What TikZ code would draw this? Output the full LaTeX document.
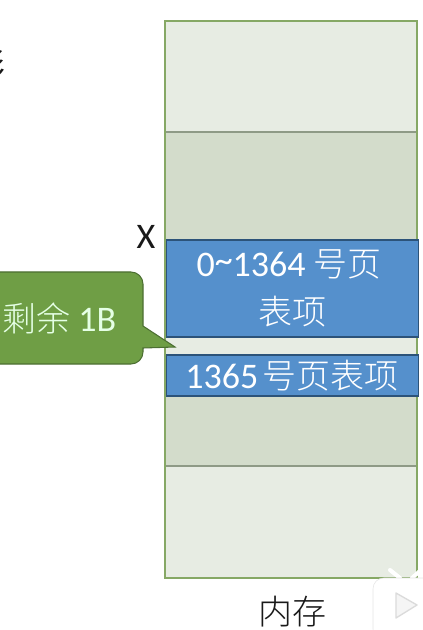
\documentclass[tikz,border=0pt]{standalone}
\usepackage{fontspec}
\setmainfont{Carlito}
\newfontfamily\cjk[UprightFont=* Light]{Noto Sans CJK SC}
\newfontfamily\cjkfort{Noto Sans CJK SC}
\newcommand{\hz}[1]{{\fontsize{25.5}{30}\selectfont\cjk #1}}
\usetikzlibrary{positioning}

\begin{document}
\begin{tikzpicture}[
  x=0.75pt, y=-0.75pt,
  font=\fontsize{27}{30}\selectfont,
  clair/.style={
    draw=gris, fill=vertclair, line width=0.8pt,
    minimum width=189pt, inner sep=0pt, outer sep=0pt
  },
  fonce/.style={clair, fill=vertfonce},
  entree/.style={
    draw=bleutrait, fill=bleu, text=white, line width=0.8pt,
    minimum width=189.5pt, inner sep=0pt, outer sep=0pt, align=center
  },
  bulle/.style={draw=verttrait, fill=vertbulle, line width=0.8pt},
  legende/.style={inner sep=0pt, text=black!90}
]
\definecolor{gris}{HTML}{8E9A86}
\definecolor{vertclair}{HTML}{E7ECE3}
\definecolor{vertfonce}{HTML}{D3DCCB}
\definecolor{vertbord}{HTML}{86A865}
\definecolor{bleu}{HTML}{5590CC}
\definecolor{bleutrait}{HTML}{2C5379}
\definecolor{vertbulle}{HTML}{6F9E45}
\definecolor{verttrait}{HTML}{4C6F32}

\useasboundingbox (0,0) rectangle (423,630);

% ----- Memoire -----
\node[clair, minimum height=83.25pt] (haut) at (291,76.5) {};
\node[fonce, minimum height=81pt] (milieuA) at (291,186) {};
\node[clair, minimum height=13.5pt] (ecart) at (291,346) {};
\node[fonce, minimum height=52.5pt] (milieuB) at (291,431) {};
\node[clair, minimum height=84pt] (bas) at (291,522) {};
\draw[vertbord, line width=1.1pt] (haut.north west) rectangle (bas.south east);

% ----- Pages -----
\node[entree, minimum height=72.75pt, font=\fontsize{27}{33}\selectfont] (plage) at (292.5,288.5)
  {\raisebox{3pt}{0\raisebox{0.12em}{\textasciitilde}1364 \hz{号页}\hspace{5pt}}\\\hz{表项}\hspace{2pt}};
\node[entree, minimum height=30.75pt] (dernier) at (292.5,375.5) {1365\kern3pt\hz{号页表项}\hspace{1pt}};

% ----- Bulle -----
\draw[bulle] [rounded corners=9pt] (-20,272) -- (143,272) -- (143,300)
  [sharp corners] -- (143,326) -- (175,347) -- (143,348) -- (143,352)
  [rounded corners=9pt] -- (143,364) -- (-20,364) -- cycle;
\node[inner sep=0pt, text=white!90!green, anchor=west] (reste) at (2,318)
  {\hz{剩余} 1B};

% ----- Textes -----
\node[legende] (adresse) at (146,237) {X};
\node[legende] (memoire) at (292,612) {\hz{内存}};
\node[legende, font=\fontsize{25.5}{30}\selectfont\cjkfort] (coupe) at (-11,66) {形};

% ----- Marque -----
\draw[white, line width=3pt, line cap=round] (390,570) -- (400,578);
\draw[white, line width=3pt, line cap=round] (421,570) -- (412,578);
\draw[draw=black!10, fill=white, rounded corners=8pt] (373,578) rectangle (440,640);
\draw[draw=black!14, fill=black!4, line join=round, line width=1pt] (396,593) -- (417,605) -- (396,618) -- cycle;

\end{tikzpicture}
\end{document}
